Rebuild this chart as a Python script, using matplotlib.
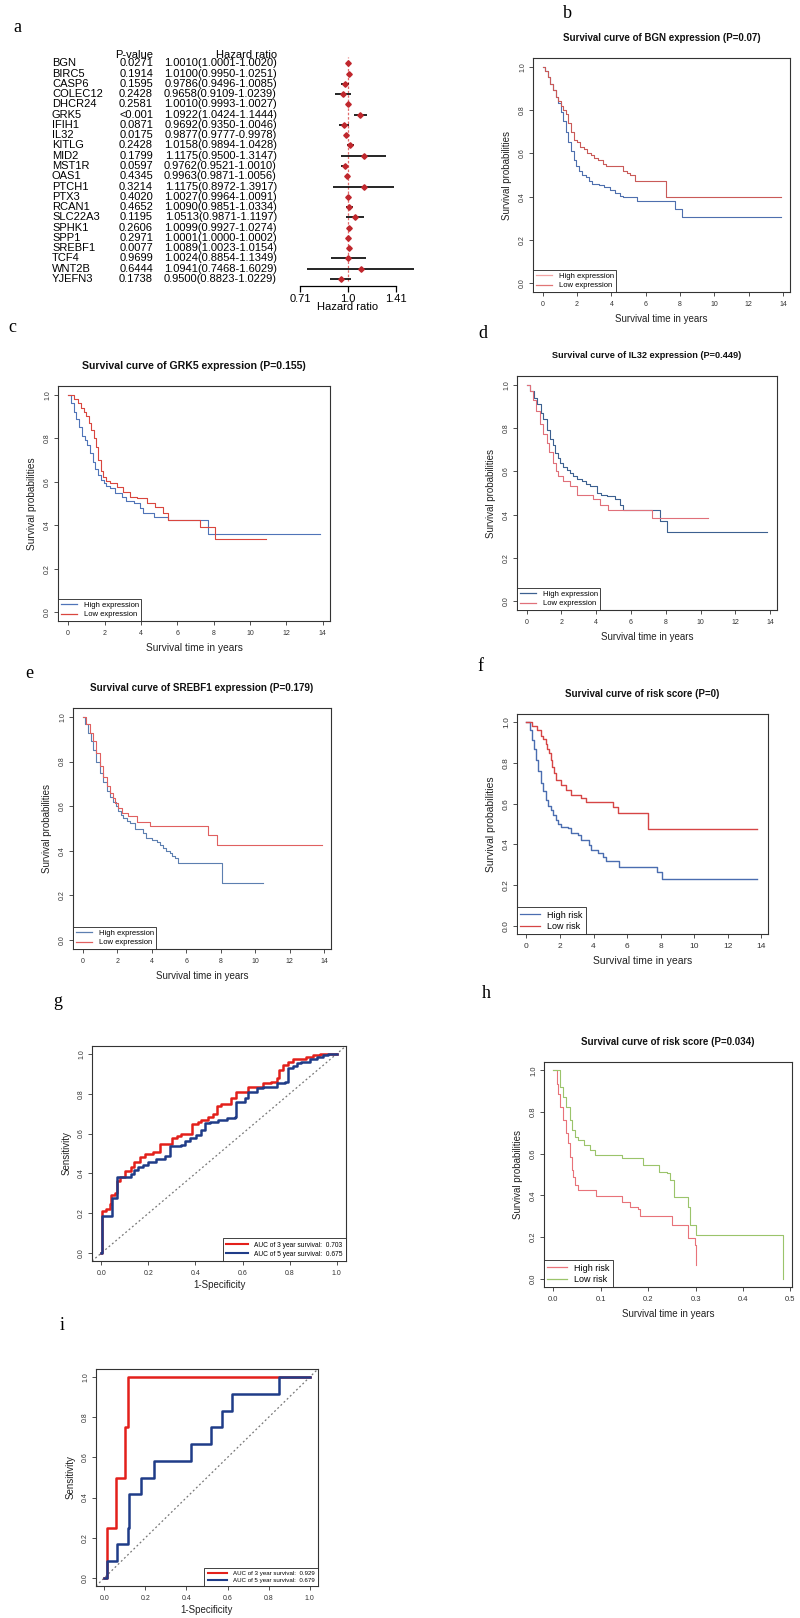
import matplotlib
matplotlib.use("Agg")
import matplotlib.pyplot as plt
from matplotlib.lines import Line2D
from matplotlib.transforms import blended_transform_factory

plt.rcParams['font.family'] = ['Liberation Sans', 'DejaVu Sans']
NARROW = ['Liberation Sans Narrow', 'Liberation Sans']

# ---------------- data ----------------
genes = ["BGN", "BIRC5", "CASP6", "COLEC12", "DHCR24", "GRK5", "IFIH1", "IL32",
         "KITLG", "MID2", "MST1R", "OAS1", "PTCH1", "PTX3", "RCAN1", "SLC22A3",
         "SPHK1", "SPP1", "SREBF1", "TCF4", "WNT2B", "YJEFN3"]
pvals = ["0.0271", "0.1914", "0.1595", "0.2428", "0.2581", "<0.001", "0.0871", "0.0175",
         "0.2428", "0.1799", "0.0597", "0.4345", "0.3214", "0.4020", "0.4652", "0.1195",
         "0.2606", "0.2971", "0.0077", "0.9699", "0.6444", "0.1738"]
hr = [1.0010, 1.0100, 0.9786, 0.9658, 1.0010, 1.0922, 0.9692, 0.9877, 1.0158, 1.1175, 0.9762,
      0.9963, 1.1175, 1.0027, 1.0090, 1.0513, 1.0099, 1.0001, 1.0089, 1.0024, 1.0941, 0.9500]
hr_lo = [1.0001, 0.9950, 0.9496, 0.9109, 0.9993, 1.0424, 0.9350, 0.9777, 0.9894, 0.9500, 0.9521,
         0.9871, 0.8972, 0.9964, 0.9851, 0.9871, 0.9927, 1.0000, 1.0023, 0.8854, 0.7468, 0.8823]
hr_hi = [1.0020, 1.0251, 1.0085, 1.0239, 1.0027, 1.1444, 1.0046, 0.9978, 1.0428, 1.3147, 1.0010,
         1.0056, 1.3917, 1.0091, 1.0334, 1.1197, 1.0274, 1.0002, 1.0154, 1.1349, 1.6029, 1.0229]

# b: BGN
b_high_t = [0, 0.15, 0.3, 0.45, 0.6, 0.75, 0.9, 1.05, 1.2, 1.35, 1.5, 1.65, 1.8, 1.95, 2.1, 2.3,
            2.5, 2.7, 2.9, 3.3, 3.6, 3.9, 4.2, 4.5, 4.7, 5.5, 7.7, 8.1, 13.9]
b_high_s = [1.0, 0.98, 0.95, 0.92, 0.89, 0.86, 0.83, 0.79, 0.75, 0.70, 0.65, 0.61, 0.57, 0.54,
            0.52, 0.50, 0.49, 0.47, 0.46, 0.455, 0.445, 0.43, 0.415, 0.405, 0.40, 0.38, 0.345,
            0.305, 0.305]
b_low_t = [0, 0.15, 0.3, 0.45, 0.6, 0.75, 0.9, 1.05, 1.2, 1.35, 1.5, 1.65, 1.8, 2.0, 2.2, 2.4,
           2.6, 2.8, 3.0, 3.2, 3.5, 3.7, 4.65, 4.9, 5.1, 5.4, 7.2, 13.9]
b_low_s = [1.0, 0.98, 0.95, 0.92, 0.89, 0.86, 0.84, 0.82, 0.80, 0.78, 0.74, 0.70, 0.66, 0.65,
           0.63, 0.62, 0.60, 0.59, 0.58, 0.57, 0.55, 0.54, 0.52, 0.51, 0.50, 0.47, 0.40, 0.40]

# c: GRK5
c_high_t = [0, 0.15, 0.3, 0.45, 0.6, 0.75, 0.9, 1.05, 1.2, 1.35, 1.5, 1.65, 1.8, 1.95, 2.1, 2.3,
            2.6, 2.95, 3.2, 3.6, 3.95, 4.1, 4.7, 5.5, 7.7, 13.85]
c_high_s = [1.0, 0.96, 0.92, 0.89, 0.85, 0.81, 0.79, 0.77, 0.73, 0.69, 0.66, 0.63, 0.61, 0.595,
            0.58, 0.57, 0.55, 0.53, 0.51, 0.50, 0.48, 0.455, 0.44, 0.425, 0.36, 0.36]
c_low_t = [0, 0.3, 0.55, 0.7, 0.85, 1.0, 1.12, 1.25, 1.4, 1.52, 1.66, 1.8, 1.94, 2.1, 2.3, 2.67,
           3.04, 3.4, 3.78, 4.32, 4.78, 5.24, 5.5, 7.25, 8.07, 10.9]
c_low_s = [1.0, 0.98, 0.96, 0.94, 0.92, 0.90, 0.87, 0.84, 0.80, 0.76, 0.70, 0.65, 0.62, 0.605,
           0.593, 0.578, 0.555, 0.531, 0.523, 0.50, 0.485, 0.455, 0.424, 0.394, 0.335, 0.335]

# d: IL32
d_high_t = [0, 0.2, 0.4, 0.6, 0.8, 0.96, 1.15, 1.35, 1.5, 1.64, 1.8, 1.92, 2.1, 2.3, 2.5, 2.69,
            2.9, 3.17, 3.4, 3.65, 4.03, 4.3, 4.6, 5.08, 5.37, 5.56, 7.67, 8.05, 13.8]
d_high_s = [1.0, 0.97, 0.94, 0.91, 0.87, 0.84, 0.79, 0.75, 0.72, 0.685, 0.66, 0.64, 0.62, 0.608,
            0.59, 0.577, 0.565, 0.554, 0.54, 0.531, 0.50, 0.49, 0.484, 0.47, 0.446, 0.423, 0.37,
            0.322, 0.322]
d_low_t = [0, 0.2, 0.38, 0.55, 0.77, 0.95, 1.15, 1.3, 1.53, 1.68, 1.82, 2.1, 2.5, 2.88, 3.84,
           4.22, 4.7, 7.19, 10.45]
d_low_s = [1.0, 0.97, 0.93, 0.88, 0.82, 0.77, 0.73, 0.69, 0.64, 0.60, 0.577, 0.554, 0.531, 0.492,
           0.47, 0.446, 0.423, 0.384, 0.384]

# e: SREBF1
e_high_t = [0, 0.15, 0.33, 0.48, 0.62, 0.8, 1.0, 1.2, 1.39, 1.6, 1.78, 1.92, 2.07, 2.2, 2.36,
            2.55, 2.74, 3.03, 3.5, 3.7, 4.0, 4.3, 4.5, 4.67, 4.85, 5.06, 5.2, 5.35, 5.55, 8.06,
            10.48]
e_high_s = [1.0, 0.97, 0.93, 0.89, 0.85, 0.80, 0.75, 0.71, 0.67, 0.64, 0.62, 0.60, 0.577, 0.56,
            0.547, 0.535, 0.524, 0.50, 0.479, 0.457, 0.45, 0.441, 0.425, 0.411, 0.40, 0.389,
            0.378, 0.367, 0.344, 0.255, 0.255]
e_low_t = [0, 0.2, 0.4, 0.6, 0.8, 1.0, 1.19, 1.4, 1.58, 1.75, 1.87, 2.05, 2.26, 2.65, 3.13, 3.9,
           7.29, 7.77, 13.86]
e_low_s = [1.0, 0.97, 0.93, 0.89, 0.84, 0.78, 0.73, 0.69, 0.66, 0.635, 0.615, 0.59, 0.57, 0.556,
           0.53, 0.51, 0.473, 0.424, 0.424]

# f: risk score (training)
f_high_t = [0, 0.2, 0.35, 0.45, 0.55, 0.7, 0.85, 1.0, 1.15, 1.3, 1.45, 1.6, 1.75, 1.9, 2.05,
            2.45, 2.65, 3.05, 3.25, 3.75, 3.85, 4.24, 4.54, 4.74, 5.54, 7.78, 8.1, 13.76]
f_high_s = [1.0, 0.96, 0.913, 0.87, 0.815, 0.76, 0.70, 0.66, 0.618, 0.59, 0.569, 0.545, 0.52,
            0.50, 0.487, 0.479, 0.455, 0.447, 0.422, 0.398, 0.373, 0.357, 0.34, 0.316, 0.291,
            0.262, 0.229, 0.229]
f_low_t = [0, 0.35, 0.65, 0.85, 1.0, 1.15, 1.25, 1.35, 1.45, 1.55, 1.65, 1.75, 2.05, 2.35, 2.65,
           3.25, 3.55, 5.15, 5.45, 7.25, 13.76]
f_low_s = [1.0, 0.98, 0.96, 0.93, 0.915, 0.895, 0.87, 0.85, 0.815, 0.78, 0.75, 0.716, 0.692,
           0.667, 0.643, 0.626, 0.61, 0.585, 0.553, 0.475, 0.475]

# g: ROC (training)
g3_x = [0.0, 0.004, 0.02, 0.035, 0.04, 0.057, 0.066, 0.078, 0.1, 0.127, 0.14, 0.163, 0.184, 0.22,
        0.248, 0.3, 0.32, 0.34, 0.387, 0.41, 0.425, 0.454, 0.475, 0.49, 0.51, 0.553, 0.574,
        0.624, 0.688, 0.723, 0.745, 0.756, 0.773, 0.794, 0.816, 0.844, 0.872, 0.9, 0.928, 1.0]
g3_y = [0.0, 0.21, 0.22, 0.245, 0.29, 0.30, 0.36, 0.38, 0.41, 0.43, 0.455, 0.48, 0.497, 0.51,
        0.55, 0.58, 0.59, 0.60, 0.65, 0.66, 0.67, 0.685, 0.70, 0.74, 0.75, 0.78, 0.81, 0.836,
        0.853, 0.86, 0.88, 0.92, 0.946, 0.962, 0.974, 0.977, 0.985, 0.993, 1.0, 1.0]
g5_x = [0.0, 0.004, 0.046, 0.066, 0.127, 0.14, 0.156, 0.177, 0.198, 0.234, 0.272, 0.29, 0.34,
        0.354, 0.376, 0.404, 0.425, 0.44, 0.46, 0.496, 0.532, 0.567, 0.574, 0.603, 0.61, 0.624,
        0.66, 0.688, 0.745, 0.78, 0.794, 0.816, 0.83, 0.85, 0.886, 0.915, 0.943, 0.964, 1.0]
g5_y = [0.0, 0.185, 0.274, 0.381, 0.398, 0.415, 0.43, 0.44, 0.455, 0.47, 0.487, 0.537, 0.545,
        0.561, 0.578, 0.594, 0.62, 0.652, 0.66, 0.668, 0.677, 0.685, 0.76, 0.76, 0.78, 0.81,
        0.827, 0.836, 0.853, 0.86, 0.93, 0.938, 0.955, 0.962, 0.977, 0.985, 0.993, 1.0, 1.0]
g_auc = ["0.703", "0.675"]

# h: risk score (validation)
h_high_t = [0, 0.007, 0.0106, 0.014, 0.021, 0.027, 0.032, 0.035, 0.039, 0.042, 0.046, 0.053,
            0.09, 0.144, 0.162, 0.178, 0.183, 0.25, 0.285, 0.298, 0.300, 0.302]
h_high_s = [1.0, 0.936, 0.888, 0.825, 0.761, 0.697, 0.65, 0.585, 0.522, 0.49, 0.45, 0.426,
            0.397, 0.37, 0.346, 0.333, 0.30, 0.258, 0.195, 0.16, 0.12, 0.065]
h_low_t = [0, 0.007, 0.014, 0.021, 0.028, 0.035, 0.039, 0.046, 0.053, 0.064, 0.078, 0.088,
           0.145, 0.19, 0.222, 0.24, 0.247, 0.254, 0.255, 0.285, 0.289, 0.301, 0.484]
h_low_s = [1.0, 1.0, 0.92, 0.873, 0.825, 0.761, 0.713, 0.68, 0.665, 0.64, 0.617, 0.593, 0.577,
           0.545, 0.513, 0.505, 0.473, 0.44, 0.392, 0.346, 0.26, 0.21, 0.0]

# i: ROC (validation)
i3_x = [0.0, 0.012, 0.057, 0.1, 0.114, 1.0]
i3_y = [0.0, 0.25, 0.5, 0.75, 1.0, 1.0]
i5_x = [0.0, 0.012, 0.063, 0.114, 0.121, 0.177, 0.24, 0.42, 0.519, 0.571, 0.62, 0.848, 1.0]
i5_y = [0.0, 0.083, 0.167, 0.25, 0.417, 0.5, 0.583, 0.667, 0.75, 0.833, 0.917, 1.0, 1.0]
i_auc = ["0.929", "0.679"]

# ---------------- figure ----------------
W, H = 800, 1618
fig = plt.figure(figsize=(W / 100, H / 100), dpi=100)


def ftext(x, y, s, **kw):
    fig.text(x / W, 1 - y / H, s, **kw)


def box(l, r, t, b, tick=5):
    ax = fig.add_axes([l / W, 1 - b / H, (r - l) / W, (b - t) / H])
    for sp in ax.spines.values():
        sp.set_color("#333333")
        sp.set_linewidth(0.8)
    ax.tick_params(direction="out", length=3, width=0.6, color="#333333",
                   labelsize=tick, labelcolor="#333333")
    ax.tick_params(axis="x", pad=3.5)
    ax.tick_params(axis="y", pad=2, labelrotation=90)
    return ax


def km(l, r, t, b, curves, colors, labels, leg_colors, title, tsize,
       xlim=(-0.56, 14.4), xticks=range(0, 15, 2), xfmt="%d", lw=0.8,
       tick=5, lab=7, legsize=5.5):
    ax = box(l, r, t, b, tick)
    for (tt, ss), c in zip(curves, colors):
        ax.step(tt, ss, where="post", color=c, lw=lw)
    ax.set_xlim(*xlim)
    ax.set_ylim(-0.04, 1.04)
    ax.set_xticks(list(xticks))
    ax.set_xticklabels([xfmt % v for v in xticks])
    ax.set_yticks([0, 0.2, 0.4, 0.6, 0.8, 1.0])
    ax.set_yticklabels(["0.0", "0.2", "0.4", "0.6", "0.8", "1.0"], va="center")
    handles = [Line2D([], [], color=c, lw=0.9) for c in leg_colors]
    leg = ax.legend(handles, labels, loc="lower left", borderaxespad=0, fancybox=False,
                    edgecolor="#222222", framealpha=1, fontsize=legsize, handlelength=2.2,
                    borderpad=0.35, labelspacing=0.25, handletextpad=0.8)
    leg.get_frame().set_linewidth(0.6)
    ftext((l + r) / 2, t - 20, title, ha="center", va="center", fontsize=tsize,
          fontweight="bold", color="#111111")
    ftext((l + r) / 2, b + 27, "Survival time in years", ha="center", va="center",
          fontsize=lab, color="#222222")
    ftext(l - 26, (t + b) / 2, "Survival probabilities", ha="center", va="center",
          fontsize=lab, rotation=90, color="#222222")
    return ax


def roc(l, r, t, b, x3, y3, x5, y5, auc, legsize=4.8):
    ax = box(l, r, t, b)
    ax.plot([-0.04, 1.04], [-0.04, 1.04], ls=(0, (1.5, 2)), color="#777777", lw=0.9)
    ax.step(x3, y3, where="post", color="#E3201B", lw=1.8)
    ax.step(x5, y5, where="post", color="#1F3C88", lw=1.8)
    ax.set_xlim(-0.04, 1.04)
    ax.set_ylim(-0.04, 1.04)
    ticks = [0, 0.2, 0.4, 0.6, 0.8, 1.0]
    labs = ["0.0", "0.2", "0.4", "0.6", "0.8", "1.0"]
    ax.set_xticks(ticks)
    ax.set_xticklabels(labs)
    ax.set_yticks(ticks)
    ax.set_yticklabels(labs, va="center")
    handles = [Line2D([], [], color="#E3201B", lw=1.5), Line2D([], [], color="#1F3C88", lw=1.5)]
    leg = ax.legend(handles, ["AUC of 3 year survival:  " + auc[0],
                              "AUC of 5 year survival:  " + auc[1]],
                    loc="lower right", borderaxespad=0, fancybox=False, edgecolor="#222222",
                    framealpha=1, fontsize=legsize, handlelength=3.2, borderpad=0.5,
                    labelspacing=0.3, handletextpad=1.0)
    leg.get_frame().set_linewidth(0.6)
    ftext((l + r) / 2, b + 24, "1-Specificity", ha="center", va="center", fontsize=7,
          color="#222222")
    ftext(l - 25, (t + b) / 2, "Sensitivity", ha="center", va="center", fontsize=7,
          rotation=90, color="#222222")
    return ax


# ---------------- panel a: forest plot ----------------
axf = fig.add_axes([290 / W, 1 - 286 / H, 130 / W, 231 / H])
axf.set_xscale("log")
axf.set_xlim(0.661, 1.672)
axf.set_ylim(21.68, -0.81)
rows = list(range(len(genes)))
axf.axvline(1.0, ymin=0.02, ymax=0.99, color="#E06A6A", ls=(0, (2, 1.5)), lw=0.9)
axf.hlines(rows, hr_lo, hr_hi, color="black", lw=1.2)
axf.plot(hr, rows, "D", color="#C0272D", ms=2.8, ls="none")
for k in ["top", "right", "left"]:
    axf.spines[k].set_visible(False)
axf.spines["bottom"].set_bounds(0.71, 1.41)
axf.spines["bottom"].set_linewidth(0.9)
axf.set_yticks([])
axf.minorticks_off()
axf.set_xticks([0.71, 1.0, 1.41])
axf.set_xticklabels(["0.71", "1.0", "1.41"], family=NARROW)
axf.tick_params(axis="x", length=4, width=0.9, labelsize=8, pad=1.5)
axf.patch.set_alpha(0)
ftext(348, 307, "Hazard ratio", ha="center", va="center", fontsize=8, family=NARROW)

tr = blended_transform_factory(fig.transFigure, axf.transData)
axf.text(153 / W, -0.8, "P-value", transform=tr, ha="right", va="center", fontsize=8,
         family=NARROW)
axf.text(277 / W, -0.8, "Hazard ratio", transform=tr, ha="right", va="center", fontsize=8,
         family=NARROW)
for i, g in enumerate(genes):
    axf.text(52 / W, i, g, transform=tr, ha="left", va="center", fontsize=8, family=NARROW)
    axf.text(153 / W, i, pvals[i], transform=tr, ha="right", va="center", fontsize=8,
             family=NARROW)
    axf.text(277 / W, i, "%.4f(%.4f-%.4f)" % (hr[i], hr_lo[i], hr_hi[i]), transform=tr,
             ha="right", va="center", fontsize=8, family=NARROW)

# ---------------- KM panels ----------------
km(533, 790, 58, 292, [(b_high_t, b_high_s), (b_low_t, b_low_s)], ["#4E6FAE", "#C95A58"],
   ["High expression", "Low expression"], ["#F2A5A5", "#E07575"],
   "Survival curve of BGN expression (P=0.07)", 7)
km(58, 330, 386, 621, [(c_high_t, c_high_s), (c_low_t, c_low_s)], ["#4F74B8", "#D9463E"],
   ["High expression", "Low expression"], ["#4F74B8", "#D9463E"],
   "Survival curve of GRK5 expression (P=0.155)", 7.6, lab=7.3)
km(517, 777, 376, 610, [(d_high_t, d_high_s), (d_low_t, d_low_s)], ["#3C6090", "#E0707A"],
   ["High expression", "Low expression"], ["#3C6090", "#E0707A"],
   "Survival curve of IL32 expression (P=0.449)", 6.6)
km(73, 331, 708, 949, [(e_high_t, e_high_s), (e_low_t, e_low_s)], ["#5C7FB0", "#E06060"],
   ["High expression", "Low expression"], ["#5C7FB0", "#E06060"],
   "Survival curve of SREBF1 expression (P=0.179)", 7.1)
km(517, 768, 714, 934, [(f_high_t, f_high_s), (f_low_t, f_low_s)], ["#4A6DB0", "#D64545"],
   ["High risk", "Low risk"], ["#4A6DB0", "#D64545"],
   "Survival curve of risk score (P=0)", 7, lw=1.0, tick=6, lab=7.5, legsize=6.5)
km(544, 792, 1062, 1287, [(h_high_t, h_high_s), (h_low_t, h_low_s)], ["#E8737A", "#9BC46B"],
   ["High risk", "Low risk"], ["#E8737A", "#9BC46B"],
   "Survival curve of risk score (P=0.034)", 7, xlim=(-0.0194, 0.5034),
   xticks=[0, 0.1, 0.2, 0.3, 0.4, 0.5], xfmt="%.1f", tick=5.5, legsize=6.5)

# ---------------- ROC panels ----------------
roc(92, 346, 1046, 1261, g3_x, g3_y, g5_x, g5_y, g_auc)
roc(96, 318, 1369, 1586, i3_x, i3_y, i5_x, i5_y, i_auc, legsize=4.4)

# ---------------- panel letters ----------------
letters = ["a", "b", "c", "d", "e", "f", "g", "h", "i"]
letter_xy = [(13, 28), (563, 14), (8, 327), (478, 333), (25, 673), (477, 667), (53, 1002),
             (482, 993), (60, 1325)]
for s, (x, y) in zip(letters, letter_xy):
    ftext(x, y, s, ha="left", va="center", fontsize=13, family=["Liberation Serif", "DejaVu Serif"])

fig.savefig("out.png", dpi=100, facecolor="white")
